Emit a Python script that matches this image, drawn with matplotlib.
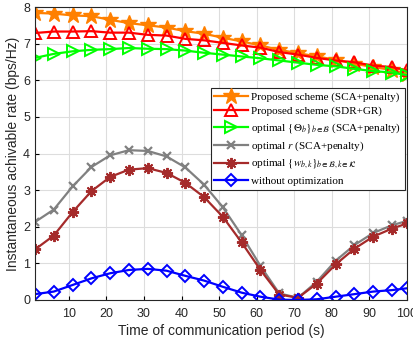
import numpy as np
import matplotlib
matplotlib.use('Agg')
import matplotlib.pyplot as plt

# time instants where markers are drawn
t = [1, 6, 11, 16, 21, 26, 31, 36, 41, 46, 51, 56, 61, 66, 71, 76, 81, 86, 91, 96, 100]

sca_penalty = [7.84, 7.82, 7.77, 7.75, 7.65, 7.56, 7.50, 7.44, 7.34, 7.27, 7.16,
               7.06, 6.95, 6.83, 6.74, 6.65, 6.56, 6.45, 6.36, 6.28, 6.18]
sdr_gr = [7.29, 7.33, 7.33, 7.34, 7.30, 7.30, 7.24, 7.22, 7.13, 7.09, 7.02,
          6.95, 6.89, 6.77, 6.70, 6.61, 6.54, 6.49, 6.40, 6.36, 6.27]
opt_theta = [6.61, 6.72, 6.79, 6.83, 6.85, 6.88, 6.86, 6.85, 6.81, 6.75, 6.70,
             6.65, 6.60, 6.54, 6.48, 6.42, 6.38, 6.31, 6.25, 6.21, 6.14]
opt_r = [2.13, 2.47, 3.10, 3.63, 3.95, 4.09, 4.07, 3.92, 3.62, 3.15, 2.53,
         1.77, 0.93, 0.18, 0.06, 0.50, 1.07, 1.50, 1.83, 2.04, 2.16]
opt_w = [1.38, 1.76, 2.40, 2.97, 3.36, 3.56, 3.60, 3.47, 3.20, 2.81, 2.27,
         1.57, 0.82, 0.15, 0.06, 0.45, 0.97, 1.40, 1.73, 1.95, 2.09]
no_opt = [0.16, 0.23, 0.41, 0.59, 0.73, 0.82, 0.85, 0.80, 0.66, 0.53, 0.36,
          0.20, 0.09, 0.01, 0.00, 0.02, 0.09, 0.16, 0.23, 0.27, 0.32]

labels = ['Proposed scheme (SCA+penalty)',
          'Proposed scheme (SDR+GR)',
          r'optimal $\{\Theta_b\}_{b\in\mathcal{B}}$ (SCA+penalty)',
          r'optimal $r$ (SCA+penalty)',
          r'optimal $\{w_{b,k}\}_{b\in\mathcal{B},k\in\mathcal{K}}$',
          'without optimization']

plt.rcParams['mathtext.fontset'] = 'stix'

fig = plt.figure(figsize=(4.14, 3.43), dpi=100)
ax = fig.add_axes([35 / 414, 1 - 300 / 343, 372 / 414, 293 / 343])

lw = 1.6
ax.plot(t, sca_penalty, color='#FF8000', marker='*', ms=12, lw=lw, label=labels[0])
ax.plot(t, sdr_gr, color='#FF0000', marker='^', ms=8, mfc='none', mew=1.4, lw=lw, label=labels[1])
ax.plot(t, opt_theta, color='#00FF00', marker='>', ms=8, mfc='none', mew=1.4, lw=lw, label=labels[2])
ax.plot(t, opt_r, color='#808080', marker='x', ms=6, mew=1.6, lw=lw, label=labels[3])
ax.plot(t, opt_w, color='#A52A2A', marker=(8, 2, 0), ms=8, mew=1.4, lw=lw, label=labels[4])
ax.plot(t, no_opt, color='#0000FF', marker='D', ms=6, mfc='none', mew=1.4, lw=lw, label=labels[5])

ax.set_xlim(1, 100)
ax.set_ylim(0, 8)
ax.set_xticks(range(10, 101, 10))
ax.set_yticks(range(0, 9))
ax.grid(True, color='#DDDDDD', lw=0.8)
ax.tick_params(direction='in', labelsize=9, length=3, labelcolor='#262626')
ax.tick_params(axis='x', pad=6)
for lab in ax.get_xticklabels() + ax.get_yticklabels():
    lab.set_fontfamily('Liberation Sans')
for s in ax.spines.values():
    s.set_color('#262626')
    s.set_linewidth(0.8)

ax.set_xlabel('Time of communication period (s)', fontsize=10, family='Liberation Sans', labelpad=3,
              color='#262626')
ax.set_ylabel('Instantaneous achivable rate (bps/Hz)', fontsize=10, family='Liberation Sans', labelpad=2,
              color='#262626')

leg = ax.legend(loc='upper right', bbox_to_anchor=(0.995, 0.724), prop={'family': 'Liberation Serif', 'size': 8},
                fancybox=False, edgecolor='#262626', framealpha=1, handlelength=3.0,
                handletextpad=0.3, borderpad=0.35, labelspacing=0.42, borderaxespad=0.0)
leg.get_frame().set_linewidth(0.8)

fig.savefig('out.png', dpi=100)
